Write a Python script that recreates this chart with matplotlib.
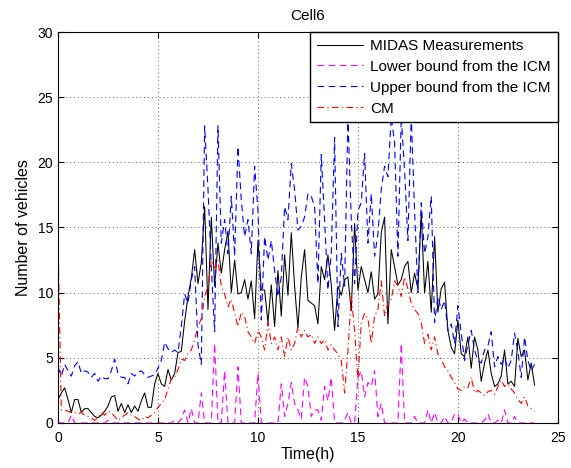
import numpy as np
import matplotlib
matplotlib.use('Agg')
import matplotlib.pyplot as plt

plt.rcParams['font.family'] = ['Liberation Sans', 'DejaVu Sans']
plt.rcParams['font.size'] = 10

# 10 minute samples, one row per hour
t = np.arange(144) / 6.0

midas = [
    1.8, 2.3, 2.7, 1.8, 0.8, 1.8,
    1.8, 0.8, 1.1, 1.1, 0.8, 0.5,
    0.4, 0.6, 0.9, 1.3, 2.0, 2.1,
    0.9, 1.5, 0.8, 1.4, 0.8, 1.3,
    0.9, 1.7, 2.3, 1.2, 1.2, 3.0,
    3.8, 3.0, 2.8, 4.1, 3.3, 3.8,
    5.4, 5.5, 7.8, 9.7, 11.1, 13.3,
    10.7, 12.3, 16.6, 8.7, 15.8, 10.5,
    13.8, 11.5, 13.3, 14.7, 10.0, 12.5,
    9.9, 10.0, 11.0, 9.5, 10.9, 8.0,
    14.0, 10.2, 10.2, 7.7, 10.6, 7.4,
    11.7, 8.2, 12.9, 9.8, 14.6, 10.5,
    7.3, 11.2, 13.3, 9.4, 9.2, 9.0,
    7.6, 12.0, 11.0, 12.9, 10.6, 7.1,
    10.5, 9.8, 11.0, 11.2, 8.6, 15.3,
    10.2, 12.0, 11.0, 10.0, 11.6, 9.5,
    9.9, 14.6, 15.8, 7.6, 13.3, 12.0,
    10.6, 11.0, 12.0, 12.4, 10.0, 11.5,
    10.3, 16.1, 10.0, 12.4, 8.5, 14.3,
    8.5, 10.3, 10.8, 7.1, 5.8, 5.3,
    7.9, 5.3, 5.1, 6.6, 4.2, 6.6,
    5.6, 3.2, 4.6, 5.6, 3.8, 2.8,
    3.0, 3.6, 5.6, 3.0, 3.2, 2.8,
    6.5, 5.1, 5.6, 3.3, 4.6, 2.9,
]

lower = [
    0, 0, 0, 0, 0.6, 0,
    0, 0, 0, 0, 0, 0,
    0, 0, 0, 0.2, 0, 0,
    0, 0, 0, 0, 0, 0,
    0, 0, 0, 0, 0, 0,
    0, 0, 0, 0, 0, 0.2,
    0, 0.3, 1.0, 0, 1.1, 0,
    0, 2.3, 0, 0, 0, 6.1,
    0, 0, 4.0, 0, 0, 0,
    4.3, 0, 0, 0, 0, 0,
    3.8, 0, 0, 0, 0, 0,
    0, 3.0, 0.5, 1.5, 3.1, 1.5,
    1.0, 0.3, 3.5, 2.8, 0.5, 1.0,
    1.0, 0.2, 2.8, 1.7, 3.5, 0,
    0, 0, 0.2, 0.8, 0, 0,
    3.5, 4.0, 2.0, 3.1, 2.8, 4.0,
    0.5, 1.5, 0, 0, 0, 0,
    0, 6.1, 0, 0, 0, 0.5,
    0, 0, 0, 1.0, 0, 0.8,
    0, 0, 0.5, 0, 0, 0.7,
    0.7, 0, 0.3, 0, 0, 0,
    0, 0, 0.2, 0.7, 0, 0,
    0.2, 0, 1.0, 0, 0, 0.5,
    0, 0, 0, 0, 0, 0,
]

upper = [
    4.3, 3.6, 4.5, 4.0, 3.6, 4.4,
    4.7, 3.8, 4.0, 3.9, 3.5, 3.8,
    3.2, 3.6, 3.4, 3.4, 4.0, 4.9,
    3.8, 3.5, 3.5, 3.0, 3.8, 3.6,
    3.9, 4.0, 3.7, 3.5, 3.6, 3.7,
    4.2, 4.8, 6.2, 5.7, 5.4, 5.6,
    5.4, 7.4, 9.9, 9.2, 11.0, 12.0,
    6.0, 4.5, 22.8, 18.0, 12.0, 7.0,
    22.8, 13.8, 15.6, 13.0, 17.4, 12.8,
    21.2, 17.1, 14.3, 15.6, 13.0, 19.7,
    16.3, 7.9, 14.3, 12.5, 14.0, 11.7,
    9.7, 11.2, 16.6, 15.6, 19.9, 17.9,
    14.8, 15.1, 15.8, 17.6, 17.4, 16.6,
    10.7, 20.6, 15.6, 10.2, 13.0, 21.9,
    7.4, 13.0, 10.5, 23.5, 15.6, 10.7,
    16.3, 16.9, 20.7, 13.8, 17.6, 12.8,
    14.5, 17.9, 19.7, 18.9, 23.5, 21.5,
    12.8, 23.5, 19.4, 14.0, 23.5, 16.3,
    10.0, 16.9, 13.0, 14.3, 17.4, 7.7,
    9.7, 8.7, 9.4, 7.1, 7.6, 6.1,
    9.0, 6.9, 4.8, 6.0, 7.1, 5.6,
    4.8, 4.6, 5.6, 5.9, 7.0, 4.3,
    5.1, 4.5, 5.0, 4.2, 4.8, 6.9,
    5.5, 3.5, 6.6, 4.8, 4.0, 4.5,
]

cm = [
    14.0, 1.0, 1.0, 0.9, 0.8, 0.8,
    0.7, 0.8, 0.6, 0.5, 0.4, 0.2,
    0.4, 0.8, 0.6, 0.9, 0.8, 0.5,
    0.2, 0.4, 0.6, 0.8, 0.6, 0.5,
    0.3, 0.2, 0.5, 0.4, 0.6, 0.8,
    1.2, 1.5, 1.8, 2.6, 3.4, 3.5,
    4.1, 4.9, 4.8, 5.3, 5.6, 6.4,
    7.4, 8.0, 9.7, 10.5, 12.5, 11.9,
    12.5, 10.5, 9.9, 8.9, 9.5, 8.4,
    7.4, 8.5, 8.2, 7.0, 6.6, 6.1,
    7.1, 6.6, 5.6, 7.7, 6.1, 6.6,
    5.6, 6.6, 5.1, 6.6, 5.6, 6.1,
    7.4, 6.6, 7.1, 6.6, 6.8, 6.1,
    6.6, 6.1, 6.4, 5.6, 6.0, 5.6,
    5.3, 4.8, 2.3, 5.5, 9.7, 7.1,
    3.3, 7.7, 8.4, 8.0, 6.1, 8.2,
    8.7, 10.9, 8.2, 9.2, 9.5, 10.9,
    10.5, 9.7, 11.2, 10.3, 9.2, 8.7,
    8.4, 7.7, 6.1, 6.8, 5.6, 6.6,
    5.3, 4.9, 4.3, 4.0, 3.5, 3.1,
    2.6, 2.5, 2.8, 2.7, 3.5, 2.3,
    2.5, 2.3, 2.1, 2.4, 2.5, 2.2,
    2.8, 3.3, 2.8, 3.0, 2.6, 2.3,
    1.8, 1.5, 2.0, 1.3, 1.1, 0.9,
]

fig = plt.figure(figsize=(5.71, 4.68), dpi=100)
ax = fig.add_axes([0.1016, 0.0962, 0.8754, 0.8354])

ax.plot(t, midas, color='k', lw=0.75, label='MIDAS Measurements')
ax.plot(t, lower, color='#ff00ff', lw=0.8, dashes=(6, 4), label='Lower bound from the ICM')
ax.plot(t, upper, color='#0000ff', lw=0.8, dashes=(6, 4), label='Upper bound from the ICM')
ax.plot(t, cm, color='#ff0000', lw=0.8, dashes=(6, 3, 1, 3), label='CM')

ax.set_xlim(0, 25)
ax.set_ylim(0, 30)
ax.set_xticks(range(0, 26, 5))
ax.set_yticks(range(0, 31, 5))
ax.tick_params(direction='in', top=True, right=True, length=4, labelsize=10)
ax.tick_params(axis='x', pad=6)
ax.grid(True, color='0.35', linestyle=(0, (1, 3)), lw=0.7)
for s in ax.spines.values():
    s.set_linewidth(0.8)

ax.set_title('Cell6', fontsize=11, pad=9)
ax.set_xlabel('Time(h)', fontsize=11.5, labelpad=1)
ax.set_ylabel('Number of vehicles', fontsize=11.5, labelpad=5)

leg = ax.legend(loc='upper right', borderaxespad=0, fancybox=False, framealpha=1,
                edgecolor='k', handlelength=3.0, labelspacing=0.45, fontsize=11,
                borderpad=0.45, handletextpad=0.5)
leg.get_frame().set_linewidth(1.0)

plt.savefig('out.png', dpi=100)
